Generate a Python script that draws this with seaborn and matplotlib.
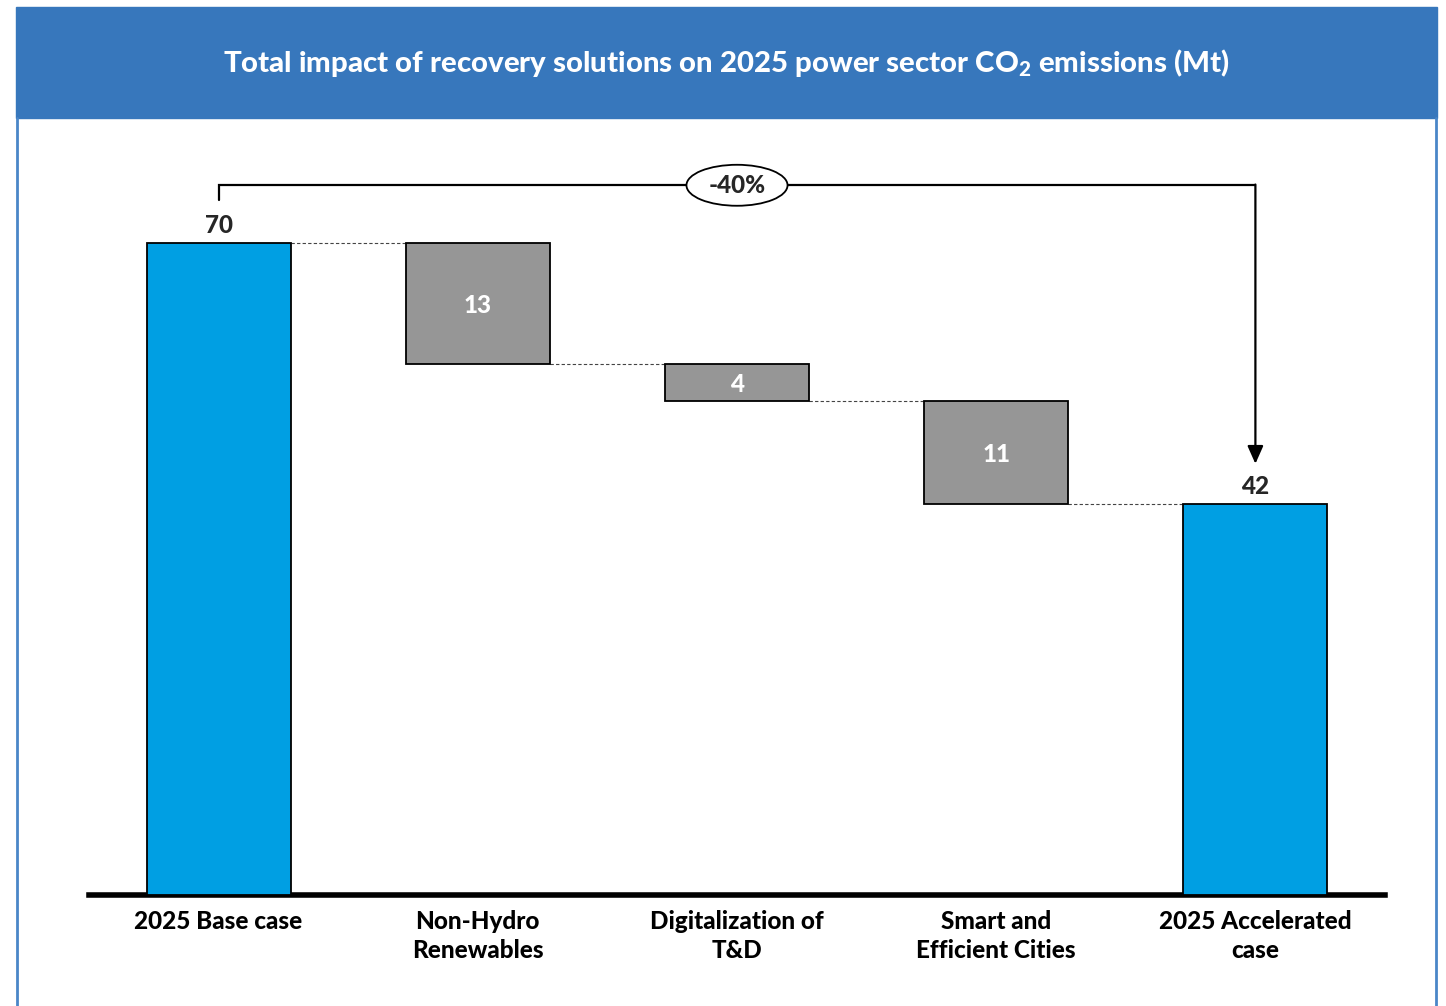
import numpy as np
import pandas as pd
import seaborn as sns
import matplotlib.pyplot as plt
from matplotlib.patches import Rectangle, Ellipse

categories = ["2025 Base case", "Non-Hydro Renewables", "Digitalization of T&D",
              "Smart and Efficient Cities", "2025 Accelerated case"]
tick_labels = ["2025 Base case", "Non-Hydro\nRenewables", "Digitalization of\nT&D",
               "Smart and\nEfficient Cities", "2025 Accelerated\ncase"]
base_value = 70
step_values = [13, 4, 11]
final_value = 42
change_label = "-40%"

sns.set_theme(style="white")
plt.rcParams["font.family"] = ["Lato", "DejaVu Sans"]
plt.rcParams["mathtext.fontset"] = "custom"
plt.rcParams["mathtext.rm"] = "Lato"
plt.rcParams["mathtext.bf"] = "Lato:black"

BOLD = "black"

# running levels for the floating bars
levels = base_value - np.cumsum([0] + step_values)
totals = pd.DataFrame({"cat": [categories[0], categories[-1]],
                       "value": [base_value, final_value]})
steps = pd.DataFrame({"cat": categories[1:4], "value": step_values,
                      "bottom": levels[1:]})

fig = plt.figure(figsize=(14.46, 10.06), dpi=100)
W, H = 1446, 1006

# header band and frame
fig.patches.append(Rectangle((16 / W, 1 - 118 / H), 1421 / W, 111 / H,
                             transform=fig.transFigure, color="#3777BC", zorder=0))
for xp in (17, 1436):
    fig.lines.append(plt.Line2D([xp / W, xp / W], [0, 1 - 118 / H],
                                transform=fig.transFigure, color="#4A86C8", lw=2))
fig.text(726 / W, 1 - 63 / H,
         r"Total impact of recovery solutions on 2025 power sector CO$_\mathbf{2}$ emissions (Mt)",
         color="white", fontsize=21.2, fontweight=BOLD, ha="center", va="center")

bw = 0.555
ax = fig.add_axes([89 / W, 1 - 895 / H, 1296 / W, 82 * 9.314 / H])
sns.barplot(data=totals, x="cat", y="value", order=categories, color="#009FE3",
            saturation=1, width=bw, edgecolor="black", linewidth=1.3,
            errorbar=None, ax=ax, zorder=3)
sns.barplot(data=steps, x="cat", y="value", order=categories, color="#969696",
            saturation=1, width=bw, edgecolor="black", linewidth=1.3,
            errorbar=None, bottom=steps["bottom"].to_numpy(), ax=ax, zorder=3)

ax.set_xlim(-0.5, 4.5)
ax.set_ylim(0, 82)
ax.set_xlabel("")
ax.set_ylabel("")
ax.set_yticks([])
ax.set_xticks(range(5))
ax.set_xticklabels(tick_labels, fontsize=17.5, fontweight=BOLD, color="black",
                   linespacing=1.3)
ax.tick_params(axis="x", length=0, pad=11)
for s in ["top", "left", "right"]:
    ax.spines[s].set_visible(False)
ax.spines["bottom"].set_color("black")
ax.spines["bottom"].set_linewidth(4)
ax.patch.set_alpha(0)

# connectors
conn = [base_value] + list(levels[1:])
for i, lv in enumerate(conn):
    ax.plot([i + bw / 2, i + 1 - bw / 2], [lv, lv], color="#444444", lw=0.8,
            ls=(0, (3, 2)), zorder=2)

# labels
ax.text(0, base_value + 0.7, str(base_value), ha="center", va="bottom",
        fontsize=17.5, fontweight=BOLD)
ax.text(4, final_value + 0.6, str(final_value), ha="center", va="bottom",
        fontsize=17.5, fontweight=BOLD)
for i, (v, b) in enumerate(zip(step_values, levels[1:])):
    ax.text(i + 1, b + v / 2 - 0.2, str(v), ha="center", va="center", color="white",
            fontsize=17.5, fontweight=BOLD, zorder=5)

# bracket with arrow
y_top = 76.2
ax.plot([0, 0, 4], [74.6, y_top, y_top], color="black", lw=1.6, clip_on=False,
        solid_joinstyle="miter")
ax.annotate("", xy=(4, 46.3), xytext=(4, y_top + 0.08),
            arrowprops=dict(arrowstyle="-|>,head_length=0.9,head_width=0.4",
                            color="black", lw=1.6, shrinkA=0, shrinkB=0))
ax.add_patch(Ellipse((2, y_top), 0.39, 4.4, facecolor="white", edgecolor="black",
                     lw=1.3, zorder=6, clip_on=False))
ax.text(2, y_top, change_label, ha="center", va="center", fontsize=17.5,
        fontweight=BOLD, zorder=7)

fig.savefig("out.png", dpi=100)
